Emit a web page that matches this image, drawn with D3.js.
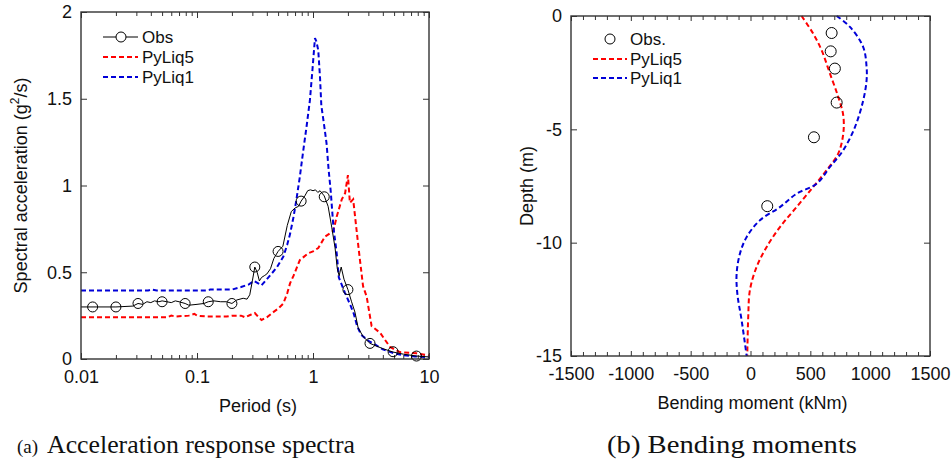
<!DOCTYPE html>
<html>
<head>
<meta charset="utf-8">
<script src="https://cdn.jsdelivr.net/npm/d3@7"></script>
<style>
  body { margin: 0; background: #fff; }
  svg { display: block; }
  .tick text { fill: #111; }
</style>
</head>
<body>
<svg id="fig" width="952" height="472"></svg>
<script>
// ── Data: (a) acceleration response spectra ─────────────────────────────────
const obsT  = [0.01,0.02,0.028,0.031,0.034,0.037,0.04,0.043,0.047,0.05,0.055,0.06,0.065,0.07,0.079,0.085,0.1,0.115,0.125,0.14,0.16,0.18,0.2,0.22,0.25,0.27,0.285,0.3,0.315,0.33,0.345,0.36,0.38,0.4,0.43,0.46,0.5,0.55,0.6,0.65,0.7,0.75,0.79,0.85,0.9,0.95,1.0,1.05,1.1,1.15,1.25,1.35,1.45,1.55,1.62,1.68,1.75,1.85,2.0,2.15,2.3,2.45,2.7,3.1,3.5,4.0,4.9,6.0,7.8,10];
const obsSa = [0.30,0.30,0.305,0.32,0.315,0.33,0.325,0.335,0.33,0.335,0.33,0.325,0.335,0.33,0.32,0.31,0.315,0.32,0.33,0.335,0.33,0.33,0.32,0.34,0.35,0.345,0.37,0.45,0.53,0.50,0.45,0.47,0.48,0.49,0.52,0.58,0.62,0.65,0.77,0.85,0.87,0.88,0.91,0.94,0.97,0.975,0.97,0.975,0.96,0.97,0.94,0.88,0.76,0.64,0.52,0.48,0.53,0.46,0.40,0.33,0.27,0.18,0.13,0.09,0.075,0.06,0.04,0.028,0.017,0.012];
const obsMarkT  = [0.0126,0.02,0.031,0.05,0.079,0.125,0.2,0.315,0.5,0.79,1.25,2.0,3.1,4.9,7.8];
const obsMarkSa = [0.30,0.30,0.32,0.33,0.32,0.33,0.32,0.53,0.62,0.91,0.935,0.40,0.09,0.042,0.017];

const liq5T  = [0.01,0.055,0.06,0.065,0.085,0.095,0.1,0.12,0.18,0.2,0.24,0.26,0.29,0.315,0.34,0.36,0.4,0.455,0.5,0.555,0.6,0.634,0.68,0.77,0.91,1.0,1.11,1.27,1.44,1.5,1.6,1.77,1.89,2.0,2.08,2.22,2.46,2.7,2.9,3.2,3.8,4.6,5.6,7.8,10];
const liq5Sa = [0.24,0.24,0.25,0.245,0.25,0.26,0.25,0.245,0.245,0.25,0.25,0.24,0.255,0.265,0.24,0.225,0.24,0.27,0.29,0.32,0.38,0.436,0.48,0.57,0.61,0.62,0.64,0.705,0.73,0.74,0.82,0.92,0.955,1.06,0.90,0.92,0.65,0.42,0.36,0.19,0.15,0.07,0.04,0.033,0.02];

const liq1T  = [0.01,0.038,0.041,0.045,0.12,0.13,0.2,0.24,0.28,0.31,0.34,0.36,0.4,0.45,0.49,0.555,0.6,0.634,0.68,0.72,0.77,0.82,0.88,0.94,0.99,1.04,1.07,1.11,1.15,1.18,1.24,1.31,1.36,1.42,1.5,1.6,1.67,1.89,2.1,2.25,2.4,2.6,3.0,3.5,4.0,5.0,6.0,7.5,10];
const liq1Sa = [0.395,0.395,0.40,0.395,0.395,0.40,0.40,0.415,0.43,0.45,0.435,0.425,0.46,0.50,0.53,0.59,0.66,0.72,0.82,0.92,1.05,1.19,1.34,1.49,1.67,1.85,1.83,1.78,1.62,1.46,1.36,1.24,1.10,0.97,0.76,0.61,0.47,0.38,0.31,0.26,0.19,0.14,0.105,0.08,0.055,0.033,0.022,0.015,0.01];

const periodTicks = [0.01,0.1,1,10];
const saTicks     = [0,0.5,1,1.5,2];

// ── Data: (b) bending moments ───────────────────────────────────────────────
const obsM = [678,670,705,720,530,140];
const obsD = [-0.75,-1.56,-2.32,-3.82,-5.35,-8.39];

const liq5D = [0,-0.78,-1.51,-2.54,-3.57,-4.38,-5.2,-6.07,-6.8,-7.54,-8.43,-9.31,-10.19,-11.07,-12.1,-13.28,-15];
const liq5M = [427,524,594,664,733,775,775,733,636,524,385,246,135,51,-5,-19,-27];

const liq1D = [0,-0.48,-1.37,-2.25,-2.84,-3.72,-4.9,-5.92,-6.66,-7.4,-7.84,-8.43,-9.01,-9.75,-10.48,-11.37,-12.25,-13.43,-15];
const liq1M = [720,831,942,970,970,942,873,775,664,553,385,246,79,-32,-88,-116,-110,-74,-32];

const momentTicks = [-1500,-1000,-500,0,500,1000,1500];
const depthTicks  = [0,-5,-10,-15];

const RED = "#ff0000", BLUE = "#0000d8";
const SANS = "'Liberation Sans', Arial, sans-serif";
const SERIF = "'Liberation Serif', 'Times New Roman', serif";

const svg = d3.select("#fig");
svg.append("rect").attr("width", 952).attr("height", 472).attr("fill", "#fff");

const zip = (a, b) => a.map((v, i) => [v, b[i]]);

function styleAxis(g) {
  g.select(".domain").remove();
  g.attr("font-size", 18).attr("font-family", SANS);
  g.selectAll(".tick line").attr("stroke", "#333").attr("stroke-width", 1);
}

function frame(x0, x1, y0, y1) {
  svg.append("rect")
    .attr("x", x0).attr("y", y0).attr("width", x1 - x0).attr("height", y1 - y0)
    .attr("fill", "none").attr("stroke", "#333").attr("stroke-width", 1.4);
}

function legend(x0, x1, xt, y, label, color, dashed, marker) {
  if (x1 > x0) {
    svg.append("line").attr("x1", x0).attr("x2", x1).attr("y1", y).attr("y2", y)
      .attr("stroke", color).attr("stroke-width", dashed ? 2 : 1)
      .attr("stroke-dasharray", dashed ? "5,3" : null);
  }
  if (marker != null) {
    svg.append("circle").attr("cx", marker).attr("cy", y).attr("r", 5)
      .attr("fill", "#fff").attr("stroke", "#000").attr("stroke-width", 1);
  }
  svg.append("text").attr("x", xt).attr("y", y).attr("dy", "0.35em")
    .attr("font-family", SANS).attr("font-size", 17).attr("fill", "#111").text(label);
}

// ── (a) ─────────────────────────────────────────────────────────────────────
{
  const L = 81, R = 429, T = 12, B = 359;
  const x = d3.scaleLog().domain([0.01, 10]).range([L, R]);
  const y = d3.scaleLinear().domain([0, 2]).range([B, T]);
  const minor = x.ticks().filter(v => !periodTicks.some(p => Math.abs(p - v) < 1e-9));
  const fmt = d3.format("~g");

  svg.append("g").attr("transform", `translate(0,${B})`)
    .call(d3.axisBottom(x).tickValues(periodTicks).tickSize(-6).tickSizeOuter(0).tickPadding(11).tickFormat(fmt))
    .call(styleAxis);
  svg.append("g").attr("transform", `translate(0,${B})`)
    .call(d3.axisBottom(x).tickValues(minor).tickSize(-4).tickSizeOuter(0).tickFormat(""))
    .call(styleAxis);
  svg.append("g").attr("transform", `translate(0,${T})`)
    .call(d3.axisTop(x).tickValues(periodTicks).tickSize(-6).tickSizeOuter(0).tickFormat(""))
    .call(styleAxis);
  svg.append("g").attr("transform", `translate(0,${T})`)
    .call(d3.axisTop(x).tickValues(minor).tickSize(-4).tickSizeOuter(0).tickFormat(""))
    .call(styleAxis);
  svg.append("g").attr("transform", `translate(${L},0)`)
    .call(d3.axisLeft(y).tickValues(saTicks).tickSize(-6).tickSizeOuter(0).tickPadding(9).tickFormat(fmt))
    .call(styleAxis);
  svg.append("g").attr("transform", `translate(${R},0)`)
    .call(d3.axisRight(y).tickValues(saTicks).tickSize(-6).tickSizeOuter(0).tickFormat(""))
    .call(styleAxis);

  const line = d3.line().x(d => x(d[0])).y(d => y(d[1]));
  const g = svg.append("g");
  g.append("path").datum(zip(liq5T, liq5Sa)).attr("d", line)
    .attr("fill", "none").attr("stroke", RED).attr("stroke-width", 2).attr("stroke-dasharray", "5,3");
  g.append("path").datum(zip(liq1T, liq1Sa)).attr("d", line)
    .attr("fill", "none").attr("stroke", BLUE).attr("stroke-width", 2).attr("stroke-dasharray", "5,3");
  g.append("path").datum(zip(obsT, obsSa)).attr("d", line)
    .attr("fill", "none").attr("stroke", "#000").attr("stroke-width", 1);
  g.selectAll("circle").data(zip(obsMarkT, obsMarkSa)).join("circle")
    .attr("cx", d => x(d[0])).attr("cy", d => y(d[1])).attr("r", 5)
    .attr("fill", "none").attr("stroke", "#000").attr("stroke-width", 1);

  frame(L, R, T, B);

  legend(103, 138, 142, 37, "Obs", "#000", false, 121);
  legend(103, 138, 142, 57, "PyLiq5", RED, true, null);
  legend(103, 138, 142, 77, "PyLiq1", BLUE, true, null);

  svg.append("text").attr("x", (L + R) / 2 + 3).attr("y", 412).attr("text-anchor", "middle")
    .attr("font-family", SANS).attr("font-size", 18).attr("fill", "#111").text("Period (s)");
  const yl = svg.append("text").attr("transform", `translate(27,${(T + B) / 2}) rotate(-90)`)
    .attr("text-anchor", "middle").attr("font-family", SANS).attr("font-size", 18).attr("fill", "#111");
  yl.append("tspan").text("Spectral acceleration (g");
  yl.append("tspan").attr("font-size", 12).attr("dy", -8).text("2");
  yl.append("tspan").attr("dy", 8).text("/s)");
}

// ── (b) ─────────────────────────────────────────────────────────────────────
{
  const L = 571, R = 930, T = 16, B = 356;
  const x = d3.scaleLinear().domain([-1500, 1500]).range([L, R]);
  const y = d3.scaleLinear().domain([-15, 0]).range([B, T]);
  const minor = d3.range(-1500, 1501, 100).filter(v => v % 500 !== 0);

  svg.append("g").attr("transform", `translate(0,${B})`)
    .call(d3.axisBottom(x).tickValues(momentTicks).tickSize(-5).tickSizeOuter(0).tickPadding(11).tickFormat(d3.format("d")))
    .call(styleAxis);
  svg.append("g").attr("transform", `translate(0,${B})`)
    .call(d3.axisBottom(x).tickValues(minor).tickSize(-4).tickSizeOuter(0).tickFormat(""))
    .call(styleAxis);
  svg.append("g").attr("transform", `translate(0,${T})`)
    .call(d3.axisTop(x).tickValues(momentTicks).tickSize(-5).tickSizeOuter(0).tickFormat(""))
    .call(styleAxis);
  svg.append("g").attr("transform", `translate(0,${T})`)
    .call(d3.axisTop(x).tickValues(minor).tickSize(-4).tickSizeOuter(0).tickFormat(""))
    .call(styleAxis);
  svg.append("g").attr("transform", `translate(${L},0)`)
    .call(d3.axisLeft(y).tickValues(depthTicks).tickSize(-6).tickSizeOuter(0).tickPadding(9).tickFormat(d3.format("d")))
    .call(styleAxis);
  svg.append("g").attr("transform", `translate(${R},0)`)
    .call(d3.axisRight(y).tickValues(depthTicks).tickSize(-6).tickSizeOuter(0).tickFormat(""))
    .call(styleAxis);
  svg.selectAll("text").filter(function () { return this.textContent.startsWith("−"); })
    .text(function () { return this.textContent.replace("−", "-"); });

  const line = d3.line().x(d => x(d[0])).y(d => y(d[1])).curve(d3.curveCatmullRom);
  const g = svg.append("g");
  g.append("path").datum(zip(liq5M, liq5D)).attr("d", line)
    .attr("fill", "none").attr("stroke", RED).attr("stroke-width", 2).attr("stroke-dasharray", "5,3");
  g.append("path").datum(zip(liq1M, liq1D)).attr("d", line)
    .attr("fill", "none").attr("stroke", BLUE).attr("stroke-width", 2).attr("stroke-dasharray", "5,3");
  g.selectAll("circle").data(zip(obsM, obsD)).join("circle")
    .attr("cx", d => x(d[0])).attr("cy", d => y(d[1])).attr("r", 5.5)
    .attr("fill", "none").attr("stroke", "#000").attr("stroke-width", 1);

  frame(L, R, T, B);

  legend(0, 0, 630, 39, "Obs.", "#000", false, 610);
  legend(593, 627, 630, 59, "PyLiq5", RED, true, null);
  legend(593, 627, 630, 78, "PyLiq1", BLUE, true, null);

  svg.append("text").attr("x", (L + R) / 2 + 2).attr("y", 409).attr("text-anchor", "middle")
    .attr("font-family", SANS).attr("font-size", 18).attr("fill", "#111").text("Bending moment (kNm)");
  svg.append("text").attr("transform", `translate(533,${(T + B) / 2}) rotate(-90)`)
    .attr("text-anchor", "middle").attr("font-family", SANS).attr("font-size", 18).attr("fill", "#111")
    .text("Depth (m)");
}

// ── Captions ────────────────────────────────────────────────────────────────
svg.append("text").attr("x", 17).attr("y", 453).attr("font-family", SERIF).attr("font-size", 19)
  .attr("fill", "#111").text("(a)");
svg.append("text").attr("x", 47).attr("y", 453).attr("font-family", SERIF).attr("font-size", 25)
  .attr("fill", "#111").attr("textLength", 308).attr("lengthAdjust", "spacingAndGlyphs")
  .text("Acceleration response spectra");
svg.append("text").attr("x", 607).attr("y", 453).attr("font-family", SERIF).attr("font-size", 25)
  .attr("fill", "#111").attr("textLength", 250).attr("lengthAdjust", "spacingAndGlyphs")
  .text("(b) Bending moments");
</script>
</body>
</html>
